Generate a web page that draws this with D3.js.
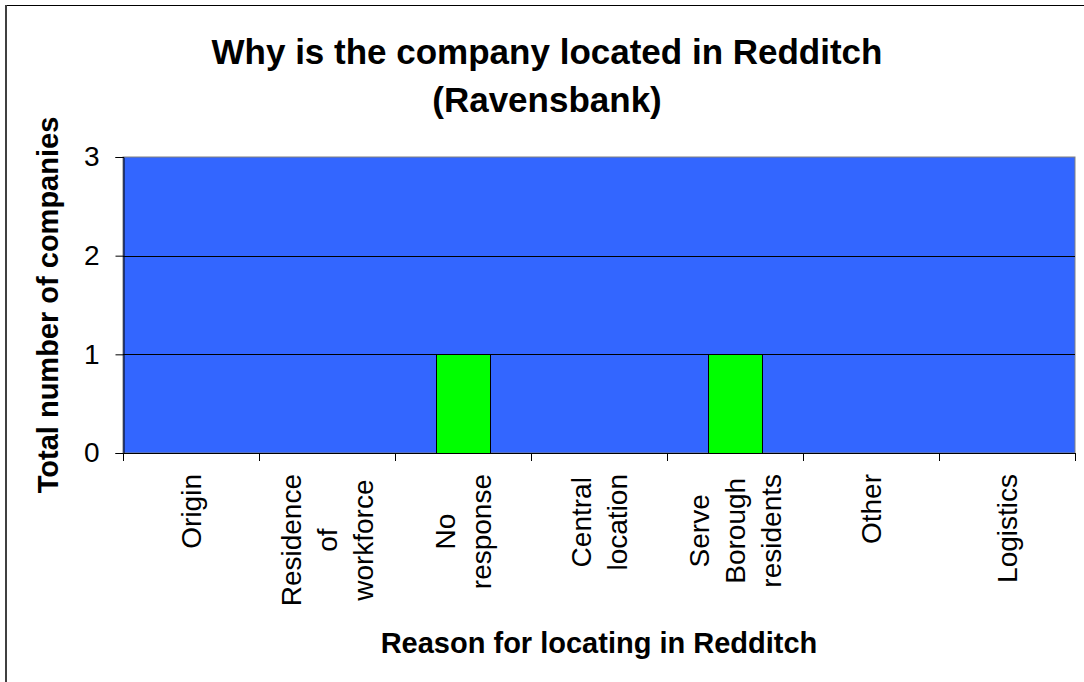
<!DOCTYPE html>
<html>
<head>
<meta charset="utf-8">
<script src="https://cdn.jsdelivr.net/npm/d3@7"></script>
<style>
  body { margin: 0; background: #fff; }
  svg { display: block; font-family: Arial, "Liberation Sans", sans-serif; }
</style>
</head>
<body>
<svg id="chart" width="1084" height="682"></svg>
<script>
// data
const categories = ["Origin", "Residence of workforce", "No response", "Central location",
                    "Serve Borough residents", "Other", "Logistics"];
const labelLines = [["Origin"], ["Residence", "of", "workforce"], ["No", "response"],
                    ["Central", "location"], ["Serve", "Borough", "residents"], ["Other"], ["Logistics"]];
const companies = [0, 0, 1, 0, 1, 0, 0];
const yTicks = [0, 1, 2, 3];

const svg = d3.select("#chart");
const plot = { left: 123, right: 1075, top: 157, bottom: 453 };

// outer frame (only top and left edges are visible)
svg.append("line").attr("x1", 6).attr("x2", 1084).attr("y1", 5.5).attr("y2", 5.5)
    .attr("stroke", "#000").attr("stroke-width", 1);
svg.append("line").attr("x1", 6).attr("x2", 6).attr("y1", 5).attr("y2", 682)
    .attr("stroke", "#404040").attr("stroke-width", 2);

const xScale = d3.scaleBand()
    .domain(categories)
    .range([plot.left, plot.right])
    .padding(0);

const yScale = d3.scaleLinear()
    .domain([0, 3])
    .range([plot.bottom, plot.top]);

// plot area
svg.append("rect")
    .attr("x", plot.left).attr("y", plot.top)
    .attr("width", plot.right - plot.left).attr("height", plot.bottom - plot.top)
    .attr("fill", "#3366FF")
    .attr("stroke", "#808080");

// gridlines
svg.append("g")
    .selectAll("line")
    .data(yTicks.filter(d => d > 0 && d < 3))
    .enter()
    .append("line")
    .attr("x1", plot.left).attr("x2", plot.right)
    .attr("y1", d => Math.round(yScale(d)) + 0.5).attr("y2", d => Math.round(yScale(d)) + 0.5)
    .attr("stroke", "#000");

// bars
const barW = xScale.bandwidth() * 0.4;
svg.append("g")
    .selectAll("rect")
    .data(categories.map((c, i) => ({ c: c, v: companies[i] })).filter(d => d.v > 0))
    .enter()
    .append("rect")
    .attr("x", d => Math.round(xScale(d.c) + xScale.bandwidth() / 2 - barW / 2) + 0.5)
    .attr("y", d => Math.round(yScale(d.v)) + 0.5)
    .attr("width", Math.round(barW))
    .attr("height", d => Math.round(yScale(0)) - Math.round(yScale(d.v)))
    .attr("fill", "#00FF00")
    .attr("stroke", "#000");

// y axis
const yAxis = svg.append("g")
    .attr("transform", `translate(${plot.left + 0.5},0)`)
    .call(d3.axisLeft(yScale).tickValues(yTicks).tickSize(8).tickPadding(16).tickFormat(d3.format("d")));
yAxis.select(".domain").attr("stroke", "#000");
yAxis.selectAll(".tick line").attr("stroke", "#000");
yAxis.selectAll(".tick text")
    .attr("font-size", 28)
    .attr("font-family", "Arial, 'Liberation Sans', sans-serif")
    .attr("fill", "#000");

// x axis: ticks at category boundaries
const boundaries = categories.map(c => xScale(c)).concat([plot.right]);
const xAxis = svg.append("g");
xAxis.append("line")
    .attr("x1", plot.left).attr("x2", plot.right)
    .attr("y1", plot.bottom + 0.5).attr("y2", plot.bottom + 0.5)
    .attr("stroke", "#000");
xAxis.selectAll(".xtick")
    .data(boundaries)
    .enter()
    .append("line")
    .attr("class", "xtick")
    .attr("x1", d => Math.round(d) + 0.5).attr("x2", d => Math.round(d) + 0.5)
    .attr("y1", plot.bottom).attr("y2", plot.bottom + 8)
    .attr("stroke", "#000");

// rotated category labels
const lineGap = 36;
const labelTop = plot.bottom + 21;
categories.forEach((c, i) => {
    const lines = labelLines[i];
    const cx = xScale(c) + xScale.bandwidth() / 2;
    const g = svg.append("g")
        .attr("transform", `translate(${cx},${labelTop}) rotate(-90)`);
    const texts = g.selectAll("text")
        .data(lines)
        .enter()
        .append("text")
        .attr("font-size", 28)
        .attr("text-anchor", "middle")
        .attr("y", (d, j) => (j - (lines.length - 1) / 2) * lineGap + 10)
        .text(d => d);
    let maxLen = 0;
    texts.each(function () { maxLen = Math.max(maxLen, this.getComputedTextLength()); });
    texts.attr("x", -maxLen / 2);
});

// titles
const title = svg.append("text")
    .attr("x", 547)
    .attr("text-anchor", "middle")
    .attr("font-size", 35)
    .attr("font-weight", "bold");
title.append("tspan").attr("x", 547).attr("y", 64).text("Why is the company located in Redditch");
title.append("tspan").attr("x", 547).attr("y", 112).text("(Ravensbank)");

svg.append("text")
    .attr("transform", `translate(58,${(plot.top + plot.bottom) / 2}) rotate(-90)`)
    .attr("text-anchor", "middle")
    .attr("font-size", 29)
    .attr("font-weight", "bold")
    .text("Total number of companies");

svg.append("text")
    .attr("x", (plot.left + plot.right) / 2)
    .attr("y", 653)
    .attr("text-anchor", "middle")
    .attr("font-size", 29)
    .attr("font-weight", "bold")
    .text("Reason for locating in Redditch");
</script>
</body>
</html>
